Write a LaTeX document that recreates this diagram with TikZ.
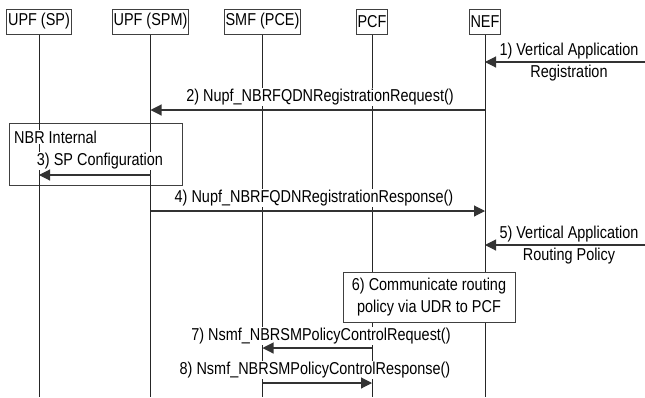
\documentclass[tikz,border=0pt]{standalone}
\usepackage{fontspec}
\setmainfont{Liberation Sans}[FakeStretch=0.84]
\usetikzlibrary{arrows.meta}
\begin{document}
\begin{tikzpicture}[x=1pt,y=-1pt,
  font=\fontsize{17.2}{21.5}\selectfont,
  hdr/.style={draw=black!75, line width=1pt, minimum height=25pt, inner xsep=1.5pt, inner ysep=0pt, fill=white},
  life/.style={draw=black!85, line width=1pt},
  lbl/.style={fill=white, inner sep=1pt, text=black},
  msg/.style={draw=black!80, line width=1.1pt, -{Triangle[length=11pt,width=11pt]}},
  grp/.style={draw=black!75, line width=1pt}]
\useasboundingbox (0,0) rectangle (645,397);
% headers
\node[hdr] (sp)  at (39,21.5)  {UPF (SP)};
\node[hdr] (spm) at (150.5,21.5) {UPF (SPM)};
\node[hdr] (smf) at (262.5,21.5) {SMF (PCE)};
\node[hdr] (pcf) at (372,21.5) {PCF};
\node[hdr] (nef) at (485,21.5) {NEF};
\coordinate (bot) at (0,397);
% NBR internal group box
\node[grp, minimum width=173pt, minimum height=62pt] (nbr) at (95.5,154.5) {};
% lifelines
\draw[life] (sp.south) -- (sp.south |- bot);
\draw[life] (spm.south) -- (spm.south |- bot);
\draw[life] (smf.south) -- (smf.south |- bot);
\draw[life] (pcf.south) -- (pcf.south |- bot);
\draw[life] (nef.south) -- (nef.south |- bot);
% message levels
\coordinate (y1) at (645,62);
\coordinate (y2) at (0,110);
\coordinate (y3) at (0,175);
\coordinate (y4) at (0,211);
\coordinate (y5) at (645,245);
\coordinate (y7) at (0,348);
\coordinate (y8) at (0,383);
% labels
\node[lbl, align=center] (l1) at (569,62) {1) Vertical Application\\Registration};
\node[lbl] (l2) at (320,97) {2) Nupf\_NBRFQDNRegistrationRequest()};
\node[lbl, anchor=west] (lnbr) at (13,137) {NBR Internal};
\node[lbl] (l3) at (100,161) {3) SP Configuration};
\node[lbl] (l4) at (314,198) {4) Nupf\_NBRFQDNRegistrationResponse()};
\node[lbl, align=center] (l5) at (569,245) {5) Vertical Application\\Routing Policy};
\node[draw=black!75, line width=1pt, fill=white, align=center, minimum width=172pt, minimum height=50pt, inner sep=2pt] (b6) at (429,297) {6) Communicate routing\\policy via UDR to PCF};
\node[lbl] (l7) at (321,336) {7) Nsmf\_NBRSMPolicyControlRequest()};
\node[lbl] (l8) at (315,370) {8) Nsmf\_NBRSMPolicyControlResponse()};
% arrows
\draw[msg] (y1) -- (nef.south |- y1);
\draw[msg] (nef.south |- y2) -- (spm.south |- y2);
\draw[msg] (spm.south |- y3) -- (sp.south |- y3);
\draw[msg] (spm.south |- y4) -- (nef.south |- y4);
\draw[msg] (y5) -- (nef.south |- y5);
\draw[msg] (pcf.south |- y7) -- (smf.south |- y7);
\draw[msg] (smf.south |- y8) -- (pcf.south |- y8);
\end{tikzpicture}
\end{document}
